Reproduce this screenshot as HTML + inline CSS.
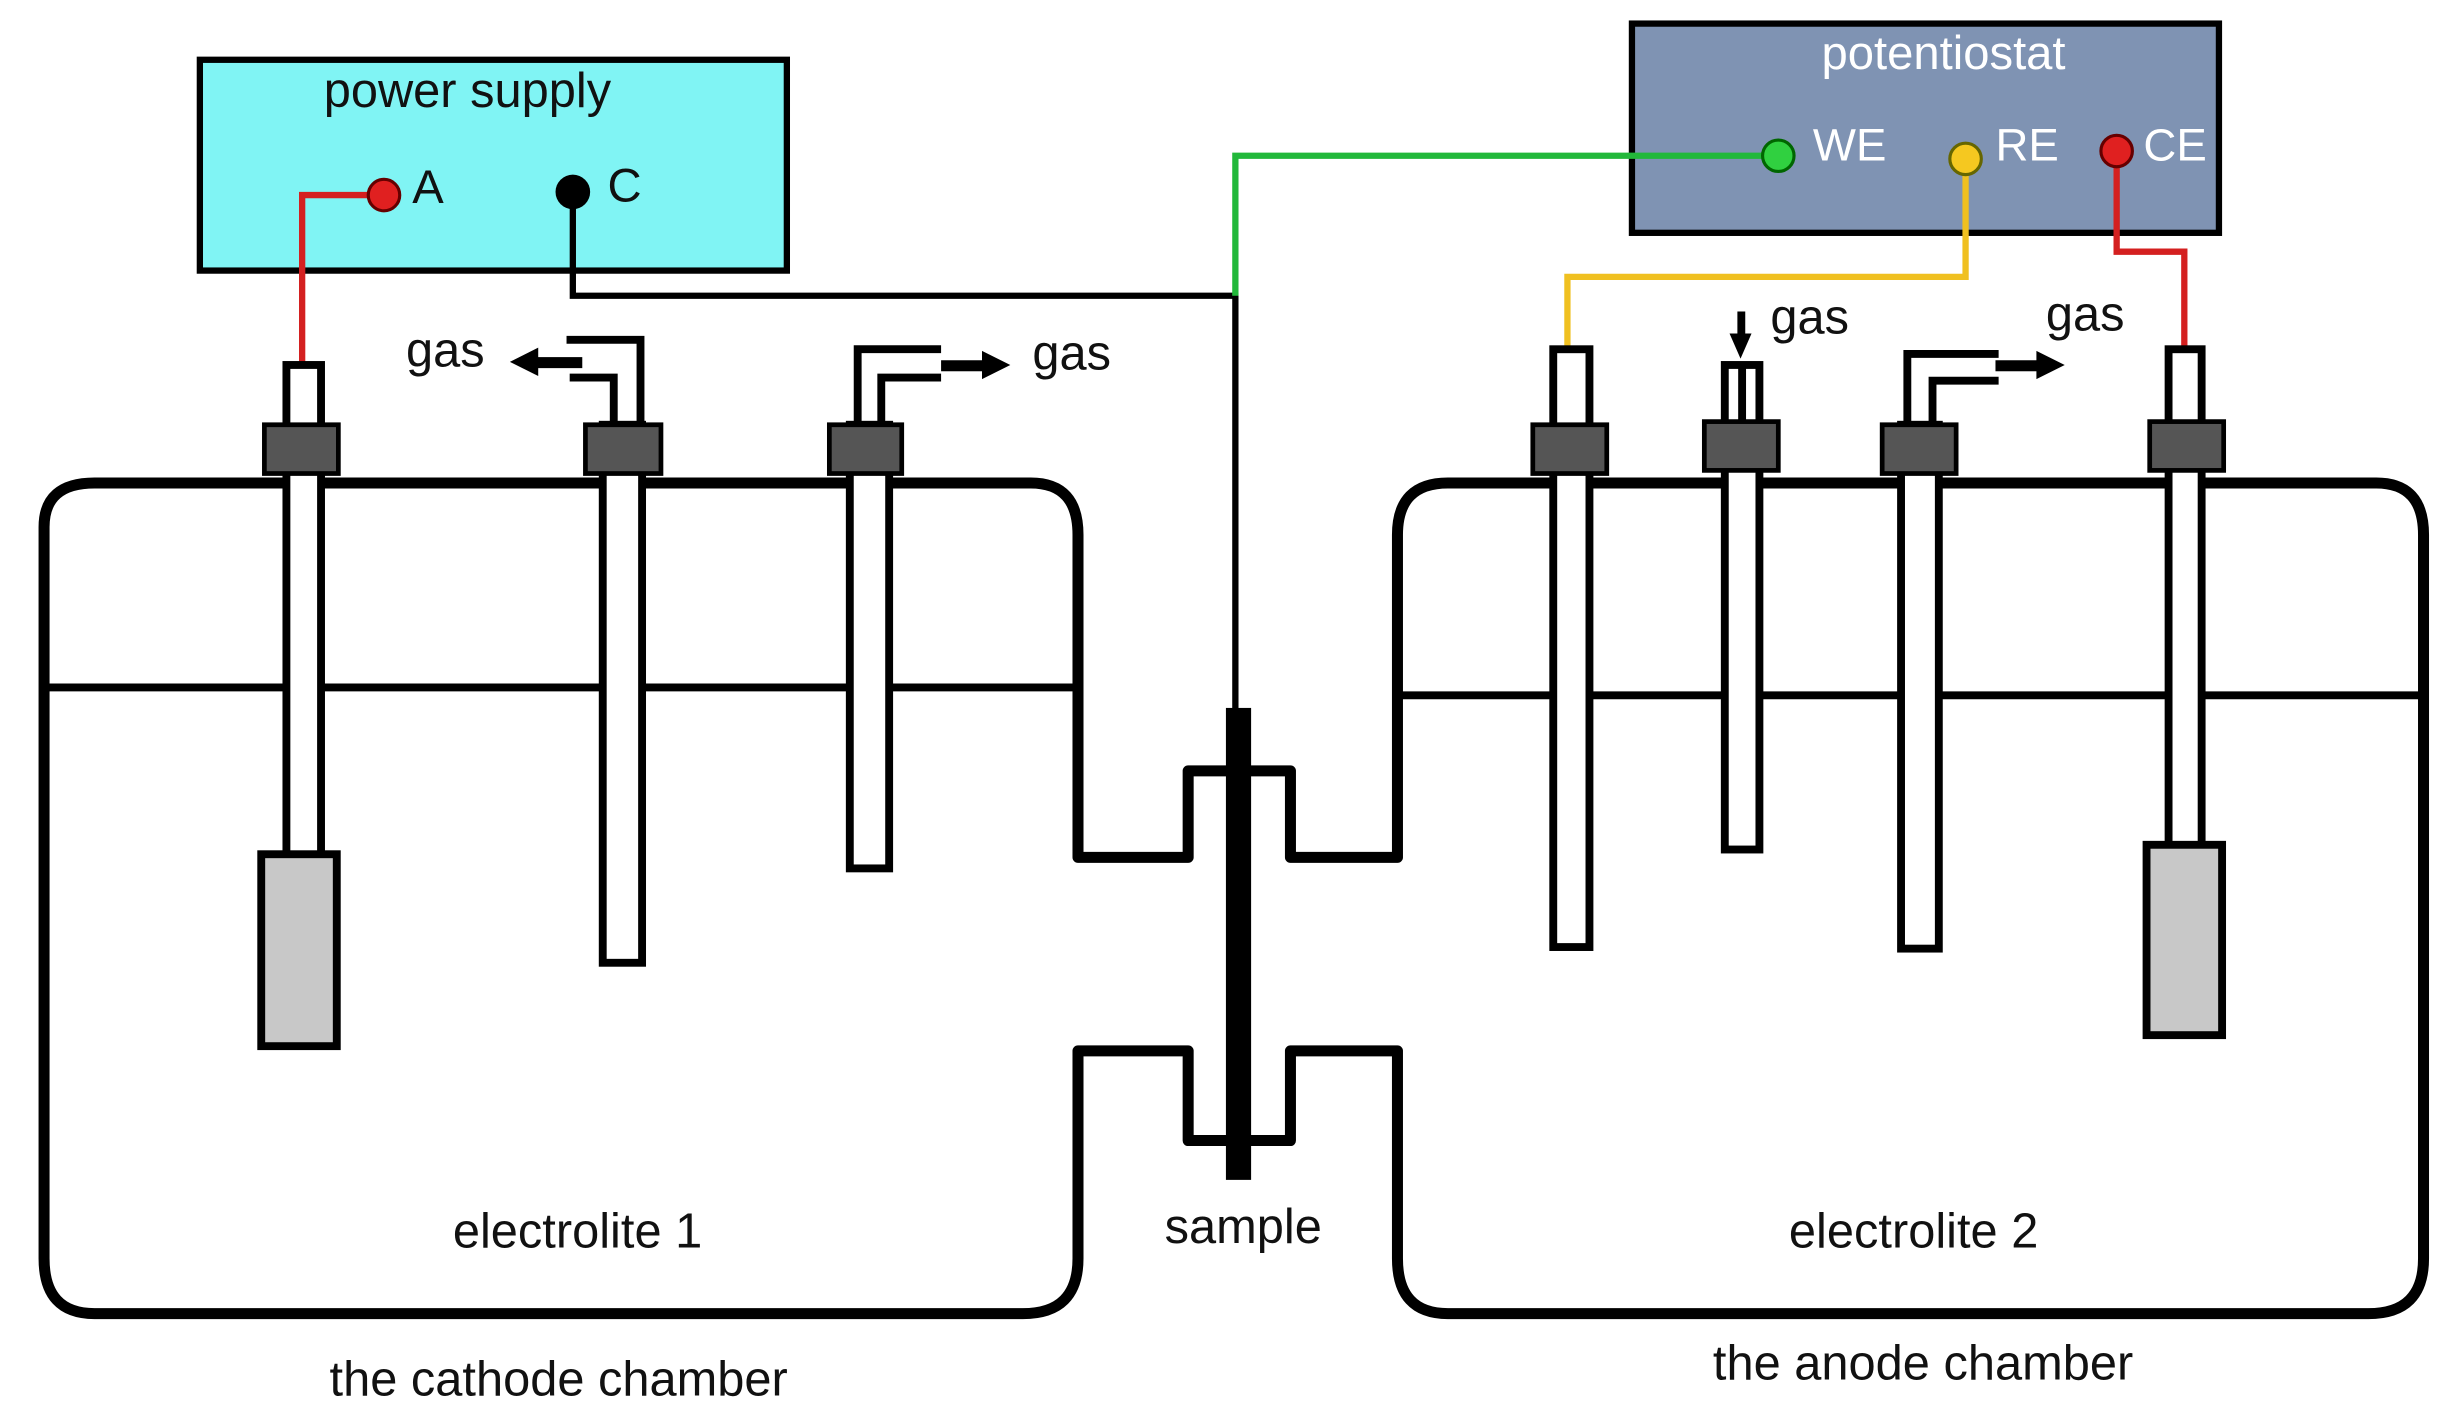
<!DOCTYPE html>
<html><head><style>
html,body{margin:0;padding:0;background:#fff;}
svg{display:block;}
text{font-family:"Liberation Sans","DejaVu Sans",sans-serif;}
</style></head><body>
<svg width="2455" height="1419" viewBox="0 0 1560 902" preserveAspectRatio="none" xmlns="http://www.w3.org/2000/svg">
<rect width="1560" height="902" fill="#fff"/>
<!-- chambers -->
<path d="M28,335 Q28,307 60,307 L655,307 Q685,307 685,340 L685,545 L755,545 L755,490 L820,490 L820,545 L888,545 L888,340 Q888,307 920,307 L1510,307 Q1540,307 1540,340 L1540,800 Q1540,835 1505,835 L920,835 Q888,835 888,800 L888,668 L820,668 L820,725 L755,725 L755,668 L685,668 L685,800 Q685,835 650,835 L60,835 Q28,835 28,800 Z" fill="#fff" stroke="#000" stroke-width="7" stroke-linejoin="round"/>
<line x1="30" y1="437" x2="685" y2="437" stroke="#000" stroke-width="5"/>
<line x1="888" y1="442" x2="1538" y2="442" stroke="#000" stroke-width="5"/>
<!-- boxes -->
<rect x="127" y="38" width="373" height="134" fill="#80f4f4" stroke="#000" stroke-width="4"/>
<rect x="1037" y="15" width="373" height="133" fill="#7f93b3" stroke="#000" stroke-width="4"/>
<!-- wires -->
<polyline points="364,122 364,188 785,188 785,455" fill="none" stroke="#000" stroke-width="4"/>
<polyline points="1130,99 785,99 785,188" fill="none" stroke="#22b83a" stroke-width="4"/>
<polyline points="244,124 192,124 192,232" fill="none" stroke="#d42020" stroke-width="4"/>
<polyline points="1249,101 1249,176 996,176 996,222" fill="none" stroke="#f0c020" stroke-width="4"/>
<polyline points="1345,96 1345,160 1388,160 1388,222" fill="none" stroke="#d42020" stroke-width="4"/>
<!-- sample -->
<rect x="779" y="450" width="16" height="300" fill="#000"/>
<text x="297" y="68" font-size="31" text-anchor="middle" fill="#111">power supply</text>
<circle cx="244" cy="124" r="10" fill="#e02020" stroke="#600" stroke-width="2"/>
<text x="262" y="129" font-size="30" fill="#111">A</text>
<circle cx="364" cy="122" r="11" fill="#000"/>
<text x="386" y="128" font-size="30" fill="#111">C</text>
<text x="1235" y="44" font-size="30" text-anchor="middle" fill="#fff">potentiostat</text>
<circle cx="1130" cy="99" r="10" fill="#30d040" stroke="#060" stroke-width="2"/>
<text x="1152" y="102" font-size="29" fill="#fff">WE</text>
<circle cx="1249" cy="101" r="10" fill="#f5c820" stroke="#660" stroke-width="2"/>
<text x="1268" y="102" font-size="29" fill="#fff">RE</text>
<circle cx="1345" cy="96" r="10" fill="#e02020" stroke="#600" stroke-width="2"/>
<text x="1362" y="102" font-size="29" fill="#fff">CE</text>
<g stroke="#000" stroke-width="5" fill="#fff">
<rect x="182" y="232" width="22" height="313"/>
<rect x="166" y="543" width="48" height="122" fill="#c8c8c8"/>
<rect x="383" y="270" width="25" height="342"/>
<path d="M390,270 L390,240 L362,240 M407,270 L407,216 L360,216" fill="none"/>
<rect x="540" y="270" width="25" height="282"/>
<path d="M545,270 L545,222 L598,222 M560,270 L560,240 L598,240" fill="none"/>
<rect x="987" y="222" width="23" height="380"/>
<rect x="1096" y="232" width="22" height="308"/>
<line x1="1107" y1="232" x2="1107" y2="270"/>
<rect x="1208" y="270" width="24" height="333"/>
<path d="M1212,270 L1212,225 L1270,225 M1228,270 L1228,242 L1270,242" fill="none"/>
<rect x="1378" y="222" width="21" height="316"/>
<rect x="1364" y="537" width="48" height="121" fill="#c8c8c8"/>
</g>
<g fill="#555" stroke="#000" stroke-width="3">
<rect x="168" y="270" width="47" height="31"/>
<rect x="372" y="270" width="48" height="31"/>
<rect x="527" y="270" width="46" height="31"/>
<rect x="974" y="270" width="47" height="31"/>
<rect x="1083" y="268" width="47" height="31"/>
<rect x="1196" y="270" width="47" height="31"/>
<rect x="1366" y="268" width="47" height="31"/>
</g>
<g fill="#000">
<rect x="338" y="227" width="32" height="7"/><polygon points="324,230 342,221 342,239"/>
<rect x="598" y="229" width="28" height="7"/><polygon points="642,232 624,223 624,241"/>
<rect x="1104" y="198" width="5" height="16"/><polygon points="1106,228 1099,212 1113,212"/>
<rect x="1268" y="229" width="28" height="7"/><polygon points="1312,232 1294,223 1294,241"/>
</g>
<g font-size="31" fill="#111">
<text x="258" y="233">gas</text>
<text x="656" y="235">gas</text>
<text x="1125" y="212">gas</text>
<text x="1300" y="210">gas</text>
<text x="367" y="793" text-anchor="middle">electrolite 1</text>
<text x="790" y="790" text-anchor="middle">sample</text>
<text x="1216" y="793" text-anchor="middle">electrolite 2</text>
<text x="355" y="887" text-anchor="middle">the cathode chamber</text>
<text x="1222" y="877" text-anchor="middle">the anode chamber</text>
</g>
</svg>
</body></html>
